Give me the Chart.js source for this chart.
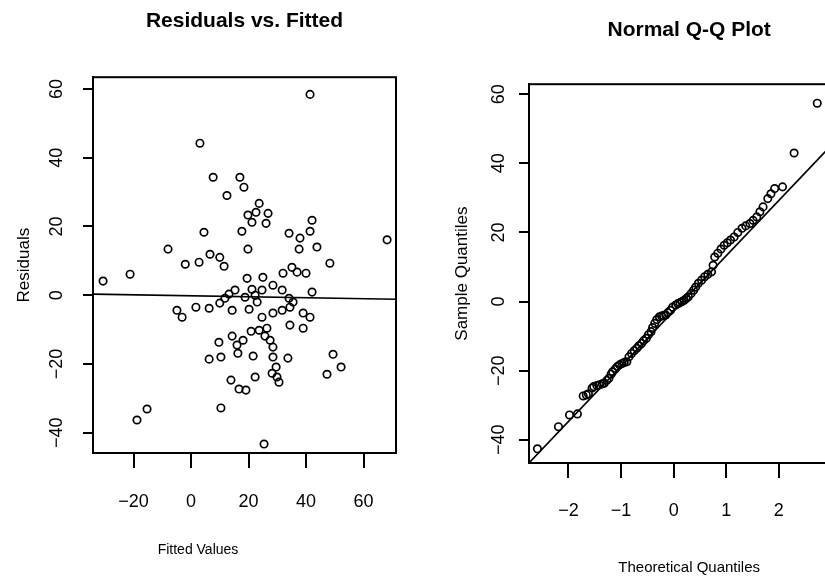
<!DOCTYPE html>
<html>
<head>
<meta charset="utf-8">
<script src="https://cdn.jsdelivr.net/npm/chart.js@4.4.1/dist/chart.umd.min.js"></script>
<style>
  html, body { margin: 0; padding: 0; background: #fff; overflow: hidden; width: 825px; height: 579px; }
  canvas { position: absolute; top: 0; }
  #left { left: 0; }
  #right { left: 420px; }
</style>
</head>
<body>
<canvas id="left" width="420" height="579"></canvas>
<canvas id="right" width="439" height="579"></canvas>
<script>
// ---- Residuals vs. Fitted ----
const fittedValues = [
  -30.6, -21.2, -8, -2, 2.8, 6.6, 10, 11.5, 4.5, -4.9,
  -3.1, 1.7, 6.3, 10, 11.8, 13.2, 15.3, 14.3, 9.7, 14.3,
  6.3, 10.4, 13.9, 10.4, -15.3, -18.8, 3.1, 7.7, 12.5, 17,
  18.4, 41.4, 23.7, 19.8, 22.6, 21.2, 26.8, 26.1, 17.7, 34.1,
  37.9, 42.1, 41.4, 68.2, 37.6, 43.8, 19.8, 48.3, 35.1, 36.9,
  40, 32, 25, 19.5, 28.5, 31.7, 42.1, 21.2, 24.7, 22.3,
  23, 18.8, 34.1, 35.5, 34.4, 31.7, 28.5, 20.2, 39, 41.4,
  24.7, 34.4, 39, 26.4, 23.7, 20.9, 18.1, 25.7, 27.5, 16,
  28.5, 16.3, 21.6, 28.5, 33.7, 49.4, 52.2, 47.3, 29.6, 28.2,
  29.9, 30.6, 22.3, 16.7, 19.1, 25.4
];
const residuals = [
  4.1, 6.1, 13.4, 9, 9.6, 11.9, 11, 8.4, 18.3, -4.4,
  -6.4, -3.5, -3.8, -2.3, -0.9, 0.3, 1.5, -4.4, -13.7, -11.9,
  -18.6, -18, -24.7, -32.8, -33.1, -36.3, 44.2, 34.3, 29, 34.3,
  31.4, 58.4, 26.7, 23.3, 24.1, 21.2, 23.8, 20.9, 18.6, 18,
  16.6, 21.8, 18.6, 16.1, 13.4, 14, 13.4, 9.3, 8.1, 6.7,
  6.4, 6.4, 5.2, 4.9, 2.9, 1.5, 0.9, 1.7, 1.5, 0,
  -2, -0.6, -0.9, -2, -3.5, -4.4, -5.2, -4.1, -5.2, -6.4,
  -6.4, -8.7, -9.6, -9.6, -10.2, -10.5, -13.1, -11.9, -13.1, -14.5,
  -15.1, -16.9, -17.7, -18, -18.3, -17.2, -20.9, -23, -20.9, -22.7,
  -23.8, -25.3, -23.8, -27.3, -27.6, -43.3
];
const residLineX = [-34.1, 71.3];
const residLineY = [0.3, -1.2];
const fittedTicks = [-20, 0, 20, 40, 60];
const residualTicks = [-40, -20, 0, 20, 40, 60];

// ---- Normal Q-Q Plot ----
const theoreticalQuantiles = [
  -2.59, -2.19, -1.98, -1.83, -1.72, -1.66, -1.62, -1.55, -1.52, -1.46,
  -1.41, -1.36, -1.32, -1.27, -1.23, -1.19, -1.16, -1.11, -1.07, -1.03,
  -0.98, -0.94, -0.89, -0.85, -0.80, -0.75, -0.70, -0.66, -0.61, -0.57,
  -0.52, -0.48, -0.43, -0.40, -0.36, -0.32, -0.27, -0.23, -0.19, -0.15,
  -0.11, -0.06, -0.02, 0.04, 0.08, 0.12, 0.16, 0.20, 0.24, 0.28,
  0.33, 0.38, 0.42, 0.47, 0.53, 0.59, 0.65, 0.72, 0.75, 0.78,
  0.84, 0.90, 0.96, 1.02, 1.08, 1.15, 1.22, 1.30, 1.37, 1.45,
  1.51, 1.58, 1.64, 1.70, 1.79, 1.85, 1.92, 2.07, 2.29, 2.73
];
const sampleQuantiles = [
  -42.6, -36.2, -32.8, -32.5, -27.3, -27.0, -26.7, -25.0, -24.6, -24.3,
  -24.1, -23.8, -23.6, -22.8, -22.2, -21.0, -20.3, -19.5, -18.8, -18.3,
  -17.9, -17.6, -17.4, -16.0, -15.0, -14.2, -13.5, -12.8, -12.1, -11.3,
  -10.6, -9.6, -8.7, -7.5, -6.3, -5.2, -4.4, -4.2, -4.0, -3.9,
  -3.2, -2.5, -1.6, -1.0, -0.6, -0.3, 0, 0.4, 0.9, 1.4,
  2.3, 3.3, 4.2, 5.3, 6.2, 7.2, 7.9, 8.6, 10.5, 12.9,
  14.0, 15.2, 16.3, 17.0, 17.8, 18.7, 20.0, 21.2, 21.9, 22.6,
  23.5, 24.5, 26.0, 27.4, 29.8, 31.2, 32.7, 33.2, 43.0, 57.4
];
const qqLineX = [-2.75, 3.34];
const qqLineY = [-46.7, 50.7];
const theoreticalTicks = [-2, -1, 0, 1, 2, 3];
const sampleTicks = [-40, -20, 0, 20, 40, 60];

const NARROW = "'Liberation Sans Narrow', 'Arial Narrow', 'Liberation Sans', sans-serif";
const REG = "'Liberation Sans', Arial, sans-serif";

function zip(xs, ys) { return xs.map((x, i) => ({ x: x, y: ys[i] })); }

const boxPlugin = {
  id: 'box',
  afterDraw(chart) {
    const a = chart.chartArea, ctx = chart.ctx;
    ctx.save();
    ctx.strokeStyle = '#000';
    ctx.lineWidth = 2;
    ctx.strokeRect(a.left, a.top, a.right - a.left, a.bottom - a.top);
    ctx.restore();
  }
};

function makeChart(id, cfg) {
  const pts = {
    type: 'scatter',
    label: 'points',
    data: zip(cfg.xs, cfg.ys),
    pointStyle: 'circle',
    pointRadius: 3.7,
    pointHoverRadius: 3.7,
    borderColor: '#000',
    backgroundColor: 'rgba(0,0,0,0)',
    borderWidth: 1.7
  };
  const line = {
    type: 'line',
    label: 'line',
    data: zip(cfg.lx, cfg.ly),
    borderColor: '#000',
    borderWidth: 1.6,
    pointRadius: 0,
    fill: false,
    tension: 0
  };
  return new Chart(document.getElementById(id), {
    type: 'scatter',
    data: { datasets: [line, pts] },
    plugins: [boxPlugin],
    options: {
      responsive: false,
      animation: false,
      devicePixelRatio: 1,
      layout: { padding: { left: 0, right: cfg.padRight, top: 0, bottom: 0 } },
      plugins: {
        legend: { display: false },
        tooltip: { enabled: false },
        title: {
          display: true,
          text: cfg.title,
          fullSize: false,
          color: '#000',
          font: { family: NARROW, size: 21, weight: 'bold' },
          padding: { top: cfg.titleTop, bottom: cfg.titleBottom }
        },
        subtitle: {
          display: cfg.subtitle !== null,
          text: cfg.subtitle || '',
          position: 'bottom',
          fullSize: true,
          color: '#000',
          font: { family: NARROW, size: 14, weight: 'normal' },
          padding: { top: 0, bottom: 20 }
        }
      },
      scales: {
        x: {
          type: 'linear',
          min: cfg.xmin, max: cfg.xmax,
          afterFit(s) { s.height = cfg.xAxisH; },
          afterBuildTicks(s) { s.ticks = cfg.xTicks.map(v => ({ value: v })); },
          ticks: { color: '#000', font: { family: NARROW, size: 18 }, padding: cfg.xTickPad, includeBounds: false, callback: v => String(v).replace('-', '\u2212') },
          grid: { display: true, drawOnChartArea: false, drawTicks: true, tickLength: 15, color: '#000', lineWidth: 2 },
          border: { display: true, color: '#000', width: 2 },
          title: { display: cfg.xTitle !== null, text: cfg.xTitle || '', color: '#000', font: { family: NARROW, size: cfg.xTitleSize }, padding: { top: 0, bottom: cfg.xTitleBottom } }
        },
        y: {
          type: 'linear',
          min: cfg.ymin, max: cfg.ymax,
          afterFit(s) { s.width = cfg.yAxisW; },
          afterBuildTicks(s) { s.ticks = cfg.yTicks.map(v => ({ value: v })); },
          ticks: { color: '#000', font: { family: REG, size: 18 }, padding: cfg.yTickPad, minRotation: 90, maxRotation: 90, crossAlign: 'center', includeBounds: false, callback: v => String(v).replace('-', '\u2212') },
          grid: { display: true, drawOnChartArea: false, drawTicks: true, tickLength: 10, color: '#000', lineWidth: 2 },
          border: { display: true, color: '#000', width: 2 },
          title: { display: true, text: cfg.yTitle, color: '#000', font: { family: REG, size: cfg.yTitleSize }, padding: { top: cfg.yTitleTop, bottom: 0 } }
        }
      }
    }
  });
}

// Left: "Fitted Values" is set as a bottom subtitle (it sits left of the plot centre in the reference)
makeChart('left', {
  xs: fittedValues, ys: residuals, lx: residLineX, ly: residLineY,
  title: 'Residuals vs. Fitted', titleTop: 9, titleBottom: 43,
  subtitle: 'Fitted Values',
  xmin: -34.1, xmax: 71.3, ymin: -45.9, ymax: 63.4,
  xTicks: fittedTicks, yTicks: residualTicks,
  xAxisH: 89.2, yAxisW: 93, padRight: 24, xTickPad: 23,
  xTitle: null, xTitleSize: 14, xTitleBottom: 0,
  yTitle: 'Residuals', yTitleSize: 17, yTitleTop: 14, yTickPad: 11
});

makeChart('right', {
  xs: theoreticalQuantiles, ys: sampleQuantiles, lx: qqLineX, ly: qqLineY,
  title: 'Normal Q-Q Plot', titleTop: 18, titleBottom: 41,
  subtitle: null,
  xmin: -2.75, xmax: 3.34, ymin: -46.7, ymax: 62.9,
  xTicks: theoreticalTicks, yTicks: sampleTicks,
  xAxisH: 116, yAxisW: 109, padRight: 0, xTickPad: 22,
  xTitle: 'Theoretical Quantiles', xTitleSize: 15, xTitleBottom: 2,
  yTitle: 'Sample Quantiles', yTitleSize: 17, yTitleTop: 32, yTickPad: 5
});
</script>
</body>
</html>
